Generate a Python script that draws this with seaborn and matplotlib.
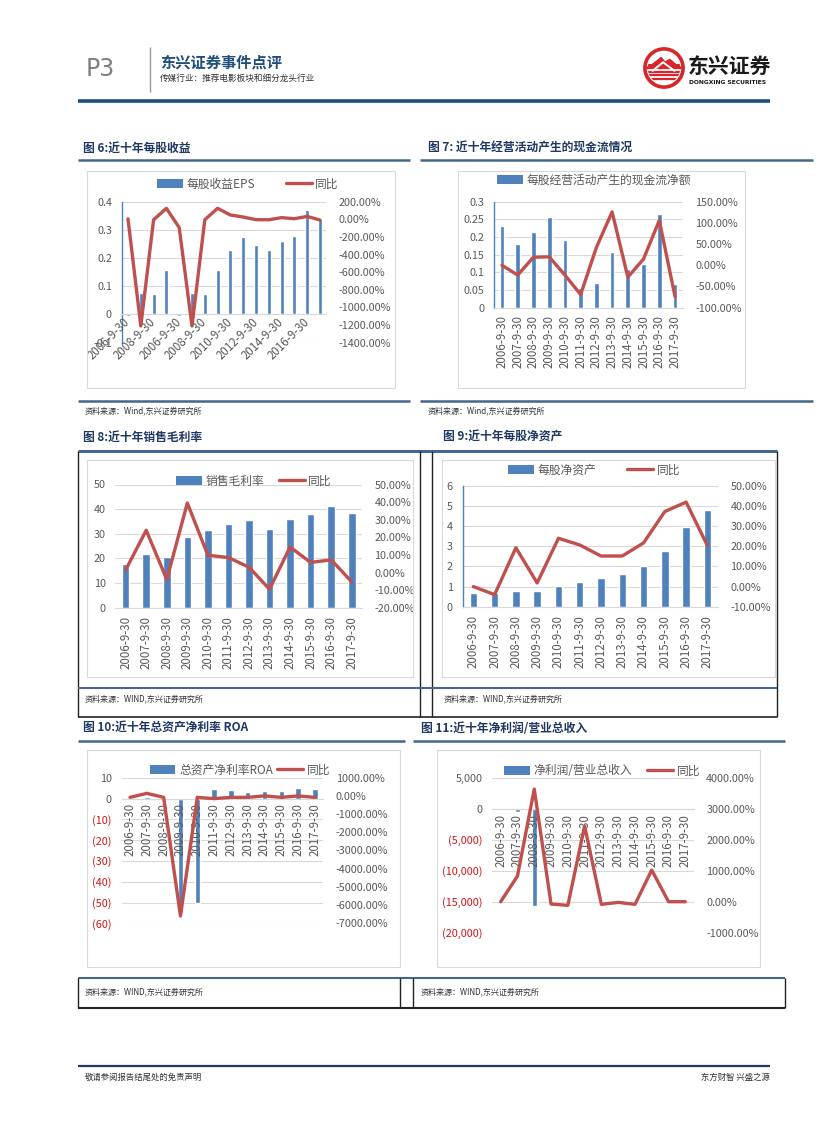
import numpy as np
import pandas as pd
import matplotlib
matplotlib.use('Agg')
import matplotlib.pyplot as plt
import seaborn as sns
from matplotlib.patches import Patch, Rectangle, Circle
from matplotlib.lines import Line2D

sns.set_style('white')
plt.rcParams['font.family'] = ['Noto Sans CJK SC', 'DejaVu Sans']
plt.rcParams['axes.unicode_minus'] = False

W, H = 827, 1122
BLUE = '#4f81bd'
RED = '#c0504d'
GRAY = '#595959'
GRID = '#d9d9d9'
NAVY = '#1f3864'
RULE = '#44678a'
NEGRED = '#d01515'

# ---- data ----
years = ['2006-9-30', '2007-9-30', '2008-9-30', '2009-9-30', '2010-9-30', '2011-9-30',
         '2012-9-30', '2013-9-30', '2014-9-30', '2015-9-30', '2016-9-30', '2017-9-30']

# fig 6: the source table repeats 2006-2009, so 16 points
eps_labels = ['2006-9-30', '2008-9-30', '2006-9-30', '2008-9-30',
              '2010-9-30', '2012-9-30', '2014-9-30', '2016-9-30']
eps = [-0.005, 0.076, 0.072, 0.158, -0.005, 0.076, 0.072, 0.158,
       0.227, 0.274, 0.245, 0.229, 0.260, 0.278, 0.369, 0.340]
eps_yoy = [5, -1210, -5, 125, -94, -1210, -5, 125, 49, 26, -4, -5, 19, 7, 33, -8]

cfps = [0.231, 0.181, 0.214, 0.258, 0.191, 0.056, 0.070, 0.158, 0.110, 0.125, 0.264, 0.066]
cfps_yoy = [0, -23, 19, 20, -23, -69, 42, 126, -28, 15, 106, -74]

gm = [17.6, 21.6, 20.4, 28.5, 31.5, 33.9, 35.4, 31.8, 36.1, 38.2, 41.1, 38.6]
gm_yoy = [1.5, 24, -4, 39.5, 9.8, 8.5, 3, -9.5, 14.5, 5.7, 7.2, -5.3]

bps = [0.70, 0.68, 0.80, 0.80, 1.01, 1.21, 1.43, 1.64, 2.00, 2.77, 3.96, 4.79]
bps_yoy = [0, -4, 19.3, 1.8, 24, 20.7, 15.2, 15.2, 21.7, 37.3, 42, 20.4]

roa = [0.2, 0.8, 0.3, -55.2, -50.3, 4.7, 4.0, 3.1, 3.5, 3.5, 5.1, 4.7]
roa_yoy = [-80, 140, -80, -6600, -80, -150, -80, -80, 0, -80, 0, -80]

npm = [-30, -480, -15650, 30, -20, -20, 30, 30, 30, 30, 30, 30]
npm_yoy = [0, 828, 3634, -75, -118, 2441, -86, -22, -86, 1021, 0, 0]

fig = plt.figure(figsize=(W / 100, H / 100), dpi=100)


def fx(x):
    return x / W


def fy(y):
    return 1 - y / H


def add_ax(l, t, r, b):
    return fig.add_axes([l / W, 1 - b / H, (r - l) / W, (b - t) / H])


def line(x0, x1, y0, y1, color, lw):
    fig.add_artist(Line2D([fx(x0), fx(x1)], [fy(y0), fy(y1)], color=color, lw=lw,
                          solid_capstyle='butt'))


def box(l, t, r, b, color=GRID, lw=0.8):
    fig.add_artist(Rectangle((fx(l), fy(b)), (r - l) / W, (b - t) / H, fill=False,
                             ec=color, lw=lw, transform=fig.transFigure))


def txt(x, y, s, **kw):
    fig.text(fx(x), fy(y), s, **kw)


def pct(v):
    return f'{v:.2f}%'


def combo(rect, bars, yoy, pos, labels, lt, rt, lfmt, width, rot, xpad,
          leg, leg_xy, colsp, spine=True, negred=False):
    ax = add_ax(*rect)
    n = len(bars)
    df = pd.DataFrame({'i': np.arange(n), 'v': bars, 'r': yoy})
    sns.barplot(data=df, x='i', y='v', color=BLUE, saturation=1, width=width,
                errorbar=None, ax=ax)
    for t in lt:
        ax.axhline(t, color=GRID, lw=0.8, zorder=0)
    ax.set_xlabel('')
    ax.set_ylabel('')
    for s in ['top', 'right']:
        ax.spines[s].set_visible(False)
    ax.spines['bottom'].set_position(('data', 0))
    ax.spines['bottom'].set_color(GRID)
    ax.spines['bottom'].set_linewidth(0.8)
    if spine:
        ax.spines['left'].set_color(BLUE)
        ax.spines['left'].set_linewidth(1.0)
    else:
        ax.spines['left'].set_visible(False)

    ax2 = ax.twinx()
    sns.lineplot(data=df, x='i', y='r', color=RED, lw=2.4, ax=ax2)
    ax2.set_ylim(rt[0], rt[-1])
    ax2.set_yticks(rt)
    ax2.set_yticklabels([pct(v) for v in rt])
    ax2.tick_params(axis='y', length=0, pad=9, labelsize=7.8, labelcolor=GRAY)
    ax2.set_ylabel('')
    ax2.set_xlabel('')
    for s in ax2.spines.values():
        s.set_visible(False)

    # axis setup after both plots so nothing resets it
    ax.set_xlim(-0.5, n - 0.5)
    ax.set_ylim(lt[0], lt[-1])
    ax.set_yticks(lt)
    ax.set_yticklabels([lfmt(v) for v in lt])
    ax.tick_params(axis='y', length=0, pad=7, labelsize=7.8)
    for lab, v in zip(ax.get_yticklabels(), lt):
        lab.set_color(NEGRED if (negred and v < 0) else GRAY)
    ax.set_xticks(pos)
    ax.set_xticklabels(labels)
    ax.tick_params(axis='x', length=0, pad=xpad, labelsize=8.3, labelcolor=GRAY,
                   labelrotation=rot)
    ax.xaxis.set_zorder(3)   # category labels sit over the bars, as in Excel
    if rot == 45:
        plt.setp(ax.get_xticklabels(), ha='right', va='center', rotation_mode='anchor')

    handles = []
    names = []
    for kind, name in leg:
        if kind == 'bar':
            handles.append(Patch(facecolor=BLUE, edgecolor='none'))
        else:
            handles.append(Line2D([], [], color=RED, lw=2.4))
        names.append(name)
    ax2.legend(handles, names, loc='center', ncol=len(leg),
               bbox_to_anchor=(fx(leg_xy[0]), fy(leg_xy[1])),
               bbox_transform=fig.transFigure, frameon=False, fontsize=8.5,
               labelcolor=GRAY, handlelength=2.2, handletextpad=0.3,
               columnspacing=colsp, borderpad=0)
    return ax, ax2


# ---- header ----
txt(86, 69, 'P3', fontsize=17, color='#7f7f7f', va='center', family='DejaVu Sans')
line(150, 150, 47, 92, '#9a9a9a', 1.0)
txt(160, 63, '东兴证券事件点评', fontsize=11, color='#1f4e79', fontweight='bold', va='center')
txt(160, 78, '传媒行业：推荐电影板块和细分龙头行业', fontsize=6.2, color='#333333', va='center')
line(78, 770, 101, 101, '#1f4e79', 2.6)

lg = fig.add_axes([fx(643), fy(89), 42 / W, 42 / H])
lg.set_xlim(-1.1, 1.1)
lg.set_ylim(-1.1, 1.1)
lg.set_aspect('equal')
lg.axis('off')
lg.add_patch(Circle((0, 0), 1.0, fc='white', ec='#d7262b', lw=2.6))
clip = Circle((0, 0), 0.85, transform=lg.transData)
for yy in np.linspace(-0.55, 0.15, 5):
    ln, = lg.plot([-1, 1], [yy, yy], color='#d7262b', lw=1.6)
    ln.set_clip_path(clip)
lg.fill([-0.9, -0.15, 0.05, 0.3, 0.9, 0.9, -0.9], [-0.05, 0.55, 0.3, 0.45, -0.05, 0.05, 0.05],
        color='#d7262b')
lg.plot([-0.6, -0.05, 0.55], [-0.15, 0.3, -0.15], color='white', lw=1.4)
txt(688, 66, '东兴证券', fontsize=15, fontweight='bold', color='#1a1a1a', va='center')
txt(689, 83, 'DONGXING SECURITIES', fontsize=4.3, fontweight='bold', color='#1a1a1a',
    va='center', family='DejaVu Sans')

# ---- fig 6 / fig 7 ----
txt(83, 148, '图 6:近十年每股收益', fontsize=8.5, fontweight='bold', color=NAVY, va='center')
txt(428, 148, '图 7: 近十年经营活动产生的现金流情况', fontsize=8.5, fontweight='bold',
    color=NAVY, va='center')
line(78, 410, 160, 160, RULE, 1.8)
line(420, 813, 160, 160, RULE, 1.8)
box(87, 171, 395, 388)
box(458, 171, 745, 388)
line(78, 410, 401, 401, RULE, 1.8)
line(420, 813, 401, 401, RULE, 1.8)
txt(85, 411, '资料来源：Wind,东兴证券研究所', fontsize=5.8, color='#333333', va='center')
txt(428, 411, '资料来源：Wind,东兴证券研究所', fontsize=5.8, color='#333333', va='center')

combo((121.6, 201.7, 326.4, 342.7), eps, eps_yoy, list(range(0, 16, 2)), eps_labels,
      [-0.1, 0, 0.1, 0.2, 0.3, 0.4], list(range(-1400, 201, 200)),
      lambda v: f'{v:g}', 0.32, 45, 4,
      [('bar', '每股收益EPS'), ('line', '同比')], (248, 184), 2.6)

combo((494.1, 201.7, 682.9, 307.7), cfps, cfps_yoy, list(range(12)), years,
      [0, 0.05, 0.1, 0.15, 0.2, 0.25, 0.3], list(range(-100, 151, 50)),
      lambda v: f'{v:g}', 0.3, 90, 5,
      [('bar', '每股经营活动产生的现金流净额')], (594, 180), 1.0)

# ---- fig 8 / fig 9 ----
txt(83, 437, '图 8:近十年销售毛利率', fontsize=8.5, fontweight='bold', color=NAVY, va='center')
txt(443, 437, '图 9:近十年每股净资产', fontsize=8.5, fontweight='bold', color=NAVY, va='center')
line(78, 777, 451, 451, RULE, 2.2)
for xv in [78, 420, 432, 777]:
    line(xv, xv, 451, 717, '#222222', 1.0)
line(78, 777, 688, 688, RULE, 1.5)
line(78, 777, 717, 717, '#222222', 1.2)
box(87, 460, 413, 677)
box(442, 460, 775, 677)
txt(85, 699, '资料来源：WIND,东兴证券研究所', fontsize=5.8, color='#333333', va='center')
txt(444, 699, '资料来源：WIND,东兴证券研究所', fontsize=5.8, color='#333333', va='center')

combo((115.4, 484.5, 362, 607.7), gm, gm_yoy, list(range(12)), years,
      [0, 10, 20, 30, 40, 50], list(range(-20, 51, 10)),
      lambda v: f'{v:g}', 0.37, 90, 6,
      [('bar', '销售毛利率'), ('line', '同比')], (254, 481), 1.2, spine=False)

combo((462.7, 486, 718, 606.7), bps, bps_yoy, list(range(12)), years,
      [0, 1, 2, 3, 4, 5, 6], list(range(-10, 51, 10)),
      lambda v: f'{v:g}', 0.35, 90, 6,
      [('bar', '每股净资产'), ('line', '同比')], (594, 470), 2.6)

# ---- fig 10 / fig 11 ----
txt(83, 728, '图 10:近十年总资产净利率 ROA', fontsize=8.5, fontweight='bold', color=NAVY,
    va='center')
txt(421, 728, '图 11:近十年净利润/营业总收入', fontsize=8.5, fontweight='bold', color=NAVY,
    va='center')
line(78, 405, 741, 741, RULE, 1.8)
line(413, 785, 741, 741, RULE, 1.8)
box(87, 750, 400, 967)
box(437, 750, 760, 967)

line(78, 785, 978, 978, RULE, 1.5)
line(78, 785, 1008, 1008, '#222222', 1.5)
for xv in [78, 400, 413, 785]:
    line(xv, xv, 978, 1008, '#222222', 1.0)
txt(85, 992, '资料来源：WIND,东兴证券研究所', fontsize=5.8, color='#333333', va='center')
txt(421, 992, '资料来源：WIND,东兴证券研究所', fontsize=5.8, color='#333333', va='center')


def paren(v):
    if v < 0:
        return f'({-v:,.0f})'
    return f'{v:,.0f}'


combo((121.6, 777.7, 323.4, 923.3), roa, roa_yoy, list(range(12)), years,
      list(range(-60, 11, 10)), list(range(-7000, 1001, 1000)),
      paren, 0.32, 90, 3,
      [('bar', '总资产净利率ROA'), ('line', '同比')], (240, 770), 0.4,
      spine=False, negred=True)

combo((492.3, 777.7, 693.7, 932.7), npm, npm_yoy, list(range(12)), years,
      list(range(-20000, 5001, 5000)), list(range(-1000, 4001, 1000)),
      paren, 0.3, 90, 4,
      [('bar', '净利润/营业总收入'), ('line', '同比')], (602, 771), 1.3,
      spine=False, negred=True)

# ---- footer ----
line(78, 770, 1066, 1066, '#1f3864', 1.6)
txt(85, 1077, '敬请参阅报告结尾处的免责声明', fontsize=6, color='#333333', va='center')
txt(770, 1077, '东方财智 兴盛之源', fontsize=6, color='#333333', va='center', ha='right')

fig.savefig('out.png', dpi=100)
